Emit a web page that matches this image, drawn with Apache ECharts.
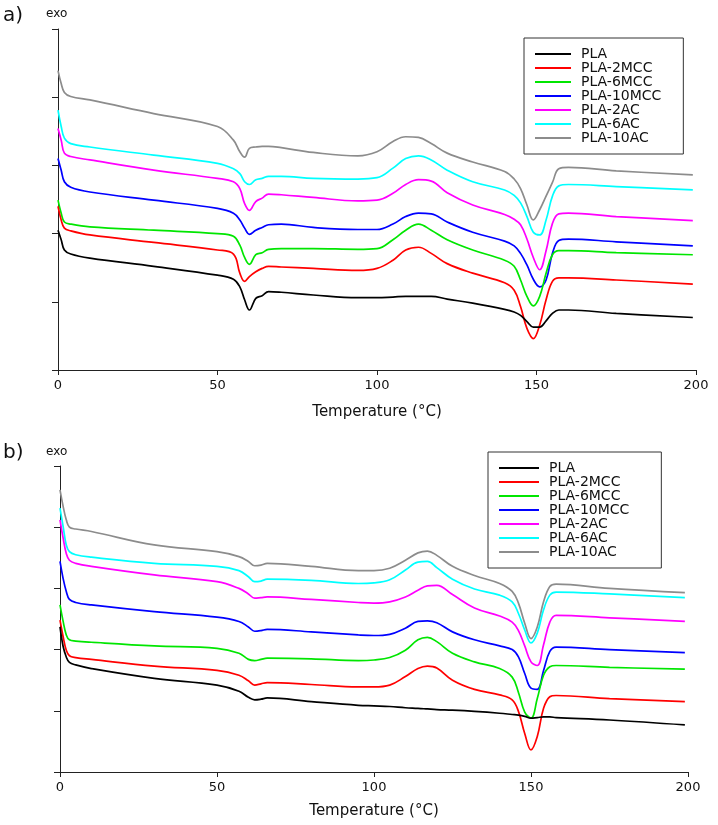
<!DOCTYPE html>
<html>
<head>
<meta charset="utf-8">
<script src="https://cdn.jsdelivr.net/npm/echarts@6/dist/echarts.min.js"></script>
<style>
  html, body { margin: 0; padding: 0; background: #fff; }
  #chart { width: 718px; height: 825px; }
</style>
</head>
<body>
<div id="chart"></div>
<script>
// DSC heating curves, arbitrary heat-flow units (exo up)
var names = ['PLA', 'PLA-2MCC', 'PLA-6MCC', 'PLA-10MCC', 'PLA-2AC', 'PLA-6AC', 'PLA-10AC'];
var colors = ['#000000', '#ff0000', '#00e600', '#0000ff', '#ff00ff', '#00ffff', '#8c8c8c'];
var xTicks = [0, 50, 100, 150, 200];

// panel a) temperatures (°C)
var tempA = [0, 1, 2, 4, 10, 30, 50, 55, 57, 58.5, 60, 62, 64, 66, 70, 80, 94, 100, 105, 109, 113, 117, 122, 130, 140, 143, 145, 147, 149, 151, 153, 155, 157, 160, 175, 199];
var a_PLA    = [2.05, 1.91, 1.76, 1.70, 1.64, 1.52, 1.39, 1.33, 1.22, 1.03, 0.88, 1.05, 1.09, 1.15, 1.14, 1.10, 1.06, 1.06, 1.07, 1.08, 1.08, 1.08, 1.04, 0.98, 0.89, 0.85, 0.80, 0.71, 0.63, 0.63, 0.72, 0.83, 0.88, 0.88, 0.83, 0.77];
var a_2MCC   = [2.40, 2.20, 2.08, 2.04, 1.98, 1.87, 1.76, 1.70, 1.42, 1.30, 1.37, 1.44, 1.49, 1.52, 1.51, 1.49, 1.46, 1.49, 1.61, 1.76, 1.80, 1.71, 1.56, 1.42, 1.28, 1.17, 0.93, 0.61, 0.46, 0.66, 1.03, 1.30, 1.35, 1.35, 1.32, 1.26];
var a_6MCC   = [2.49, 2.30, 2.17, 2.14, 2.10, 2.05, 2.00, 1.96, 1.83, 1.65, 1.55, 1.69, 1.72, 1.77, 1.78, 1.78, 1.77, 1.78, 1.91, 2.05, 2.14, 2.05, 1.91, 1.76, 1.61, 1.52, 1.32, 1.08, 0.94, 1.08, 1.42, 1.69, 1.75, 1.75, 1.72, 1.69];
var a_10MCC  = [3.10, 2.93, 2.76, 2.68, 2.61, 2.49, 2.37, 2.30, 2.20, 2.08, 1.99, 2.05, 2.09, 2.13, 2.14, 2.09, 2.06, 2.06, 2.14, 2.25, 2.30, 2.29, 2.17, 2.02, 1.89, 1.82, 1.71, 1.54, 1.33, 1.22, 1.32, 1.71, 1.90, 1.92, 1.88, 1.82];
var a_2AC    = [3.54, 3.37, 3.18, 3.13, 3.08, 2.93, 2.81, 2.76, 2.66, 2.44, 2.34, 2.47, 2.52, 2.58, 2.57, 2.53, 2.48, 2.49, 2.59, 2.72, 2.79, 2.77, 2.60, 2.42, 2.28, 2.21, 2.13, 1.92, 1.65, 1.47, 1.75, 2.15, 2.29, 2.30, 2.25, 2.19];
var a_6AC    = [3.81, 3.57, 3.40, 3.32, 3.27, 3.15, 3.03, 2.95, 2.88, 2.76, 2.72, 2.79, 2.81, 2.84, 2.84, 2.81, 2.80, 2.82, 2.96, 3.10, 3.14, 3.08, 2.93, 2.76, 2.64, 2.56, 2.45, 2.25, 2.02, 1.98, 2.20, 2.55, 2.70, 2.72, 2.69, 2.64];
var a_10AC   = [4.39, 4.20, 4.07, 4.01, 3.96, 3.76, 3.57, 3.37, 3.20, 3.12, 3.25, 3.27, 3.28, 3.28, 3.26, 3.19, 3.14, 3.20, 3.35, 3.42, 3.41, 3.32, 3.18, 3.05, 2.91, 2.80, 2.66, 2.42, 2.20, 2.35, 2.55, 2.75, 2.95, 2.97, 2.92, 2.86];

// panel b) temperatures (°C)
var tempB = [0, 1, 2, 3, 5, 10, 30, 50, 57, 60, 62, 64, 66, 80, 95, 100, 105, 110, 114, 117, 120, 125, 132, 140, 144, 146, 148, 150, 152, 154, 156, 158, 175, 199];
var b_PLA    = [2.37, 2.05, 1.88, 1.79, 1.75, 1.69, 1.53, 1.42, 1.32, 1.22, 1.18, 1.19, 1.21, 1.15, 1.09, 1.08, 1.07, 1.05, 1.04, 1.03, 1.02, 1.01, 0.99, 0.96, 0.94, 0.93, 0.91, 0.88, 0.89, 0.90, 0.90, 0.89, 0.85, 0.77];
var b_2MCC   = [2.48, 2.21, 1.99, 1.90, 1.87, 1.84, 1.73, 1.66, 1.58, 1.49, 1.42, 1.44, 1.46, 1.43, 1.39, 1.39, 1.42, 1.56, 1.69, 1.73, 1.70, 1.50, 1.35, 1.26, 1.18, 0.99, 0.63, 0.36, 0.58, 1.04, 1.23, 1.25, 1.20, 1.15];
var b_6MCC   = [2.73, 2.46, 2.24, 2.16, 2.14, 2.12, 2.06, 2.02, 1.94, 1.84, 1.82, 1.84, 1.86, 1.85, 1.82, 1.83, 1.87, 1.99, 2.16, 2.20, 2.13, 1.94, 1.80, 1.69, 1.55, 1.30, 0.98, 0.88, 1.20, 1.58, 1.72, 1.74, 1.71, 1.68];
var b_10MCC  = [3.44, 3.16, 2.95, 2.82, 2.77, 2.73, 2.62, 2.53, 2.46, 2.37, 2.30, 2.31, 2.33, 2.29, 2.24, 2.23, 2.25, 2.35, 2.46, 2.47, 2.44, 2.29, 2.16, 2.06, 2.00, 1.88, 1.61, 1.37, 1.35, 1.66, 1.97, 2.04, 2.00, 1.95];
var b_2AC    = [4.12, 3.82, 3.57, 3.46, 3.41, 3.36, 3.22, 3.11, 3.00, 2.91, 2.84, 2.85, 2.86, 2.82, 2.77, 2.76, 2.78, 2.86, 2.97, 3.04, 3.05, 2.90, 2.68, 2.55, 2.45, 2.31, 2.06, 1.80, 1.74, 2.08, 2.45, 2.56, 2.52, 2.46];
var b_6AC    = [4.31, 4.01, 3.71, 3.60, 3.55, 3.51, 3.41, 3.36, 3.29, 3.19, 3.11, 3.12, 3.15, 3.13, 3.08, 3.09, 3.14, 3.30, 3.43, 3.44, 3.34, 3.15, 2.99, 2.89, 2.78, 2.59, 2.32, 2.11, 2.27, 2.65, 2.89, 2.94, 2.91, 2.85];
var b_10AC   = [4.61, 4.34, 4.12, 4.00, 3.97, 3.93, 3.71, 3.60, 3.52, 3.44, 3.37, 3.38, 3.41, 3.36, 3.29, 3.29, 3.33, 3.46, 3.58, 3.61, 3.54, 3.36, 3.21, 3.08, 2.95, 2.76, 2.43, 2.18, 2.37, 2.78, 3.03, 3.07, 3.00, 2.93];

var panelA = [a_PLA, a_2MCC, a_6MCC, a_10MCC, a_2AC, a_6AC, a_10AC];
var panelB = [b_PLA, b_2MCC, b_6MCC, b_10MCC, b_2AC, b_6AC, b_10AC];

var FONT = 'DejaVu Sans';
var axisCol = '#222';

function pairs(t, v) {
    var out = [];
    for (var i = 0; i < t.length; i++) out.push([t[i], v[i]]);
    return out;
}

function xAxisFor(gi, gap) {
    return {
        gridIndex: gi, type: 'value', min: xTicks[0], max: xTicks[xTicks.length - 1], interval: 50,
        name: 'Temperature (°C)', nameLocation: 'middle', nameGap: gap,
        nameTextStyle: { fontFamily: FONT, fontSize: 15, color: '#111', verticalAlign: 'top' },
        axisLine: { lineStyle: { color: axisCol, width: 1 } },
        axisTick: { length: 5, lineStyle: { color: axisCol } },
        axisLabel: { fontFamily: FONT, fontSize: 13, color: '#111', margin: 9 },
        splitLine: { show: false }
    };
}

function yAxisFor(gi) {
    return {
        gridIndex: gi, type: 'value', min: 0, max: 5, interval: 1,
        axisLine: { show: true, lineStyle: { color: axisCol, width: 1 } },
        axisTick: { show: true, length: 6, lineStyle: { color: axisCol } },
        axisLabel: { show: false },
        splitLine: { show: false }
    };
}

function legendFor(left, top, itemW, padRight) {
    return {
        left: left, top: top, orient: 'vertical',
        data: names.map(function (n) { return { name: n, icon: 'rect' }; }),
        itemWidth: itemW, itemHeight: 2, itemGap: 0,
        padding: [9, padRight, 9, 11],
        borderColor: '#333', borderWidth: 1,
        selectedMode: false,
        textStyle: { fontFamily: FONT, fontSize: 14, lineHeight: 13.7, color: '#111', padding: [0, 0, 0, 5] }
    };
}

var series = [];
[panelA, panelB].forEach(function (panel, gi) {
    var temps = gi === 0 ? tempA : tempB;
    panel.forEach(function (vals, k) {
        series.push({
            name: names[k], type: 'line', xAxisIndex: gi, yAxisIndex: gi,
            data: pairs(temps, vals),
            smooth: 0.4,
            symbol: 'none', silent: true,
            lineStyle: { color: colors[k], width: 1.7 },
            itemStyle: { color: colors[k] },
            z: 10 - k
        });
    });
});

var chart = echarts.init(document.getElementById('chart'), null, { renderer: 'canvas' });
chart.setOption({
    backgroundColor: '#fff',
    animation: false,
    grid: [
        { left: 58, top: 29, width: 638, height: 341 },
        { left: 60, top: 466, width: 628, height: 306 }
    ],
    xAxis: [xAxisFor(0, 35), xAxisFor(1, 32)],
    yAxis: [yAxisFor(0), yAxisFor(1)],
    legend: [legendFor(524, 38, 36, 22), legendFor(488, 452, 40, 32)],
    graphic: [
        { type: 'text', left: 3, top: 6, style: { text: 'a)', font: '20px "DejaVu Sans"', fill: '#111' } },
        { type: 'text', left: 46, top: 8, style: { text: 'exo', font: '12px "DejaVu Sans"', fill: '#111' } },
        { type: 'text', left: 3, top: 443, style: { text: 'b)', font: '20px "DejaVu Sans"', fill: '#111' } },
        { type: 'text', left: 46, top: 446, style: { text: 'exo', font: '12px "DejaVu Sans"', fill: '#111' } }
    ],
    series: series
});
</script>
</body>
</html>
